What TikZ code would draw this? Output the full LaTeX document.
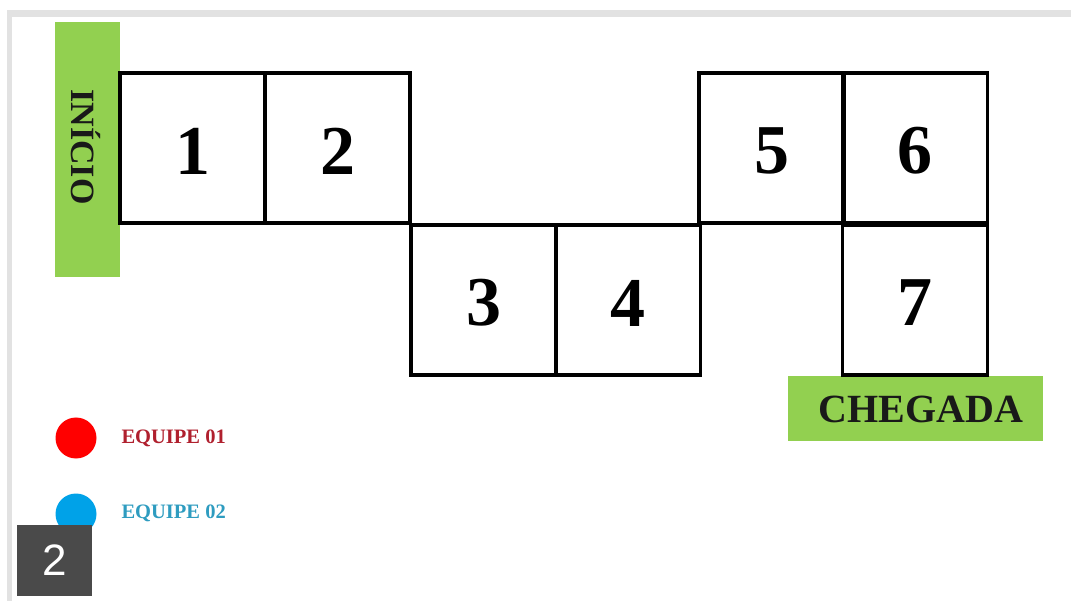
\documentclass[tikz,border=0pt]{standalone}
\usepackage{fontspec}
\setmainfont{Liberation Serif}
\newfontfamily\sansf{Liberation Sans}
\definecolor{grn}{HTML}{92D050}
\definecolor{edge}{HTML}{E2E2E2}
\definecolor{redteam}{HTML}{B0202E}
\definecolor{blueteam}{HTML}{2E9CC0}
\definecolor{bluedot}{HTML}{00A2E8}
\definecolor{darkbox}{HTML}{4A4A4A}
\tikzset{
  cell/.style={draw=black, line width=3.4pt, minimum width=145pt, minimum height=150pt, inner sep=0pt},
  num/.style={font=\bfseries\fontsize{70}{70}\selectfont},
  greenbox/.style={fill=grn, draw=none, inner sep=0pt},
  lbl/.style={font=\bfseries\fontsize{40}{40}\selectfont, text=black!90},
  team/.style={font=\bfseries\fontsize{20.5}{21}\selectfont, anchor=west},
}
\begin{document}
\begin{tikzpicture}[x=1pt,y=-1pt]
\useasboundingbox (0,0) rectangle (1071,601);
\fill[white] (0,0) rectangle (1071,601);
% frame bands
\fill[edge] (7,10) rectangle (1071,17);
\fill[edge] (7,10) rectangle (12,601);
% start box
\node[greenbox, minimum width=65pt, minimum height=255pt] (start) at (87.5,149.5) {};
\node[lbl, font=\bfseries\fontsize{34}{34}\selectfont, rotate=-90] (starttxt) at (86,147) {INÍCIO};
% finish box
\node[greenbox, minimum width=255pt, minimum height=64pt] (finish) at (915.5,408.5) {};
\node[lbl] (finishtxt) at (921,409) {CHEGADA};
% cells
\node[cell] (c1) at (192.5,148) {};
\node[cell] (c2) at (337.5,148) {};
\node[cell] (c3) at (483.5,300) {};
\node[cell] (c4) at (628,300) {};
\node[cell] (c5) at (771.5,148) {};
\node[cell] (c6) at (915,148) {};
\node[cell] (c7) at (915,300) {};
\foreach \n/\c in {1/c1,2/c2,3/c3,4/c4,5/c5,6/c6,7/c7}{
  \node[num] (t\n) at ([yshift=-3pt]\c.center) {\n};
}
% legend
\node[circle, fill=red, minimum size=41pt, inner sep=0pt] (dot1) at (76,438) {};
\node[team, text=redteam] (team1) at (118,438) {EQUIPE 01};
\node[circle, fill=bluedot, minimum size=41pt, inner sep=0pt] (dot2) at (76,514) {};
\node[team, text=blueteam] (team2) at (118,513) {EQUIPE 02};
% page number box
\node[fill=darkbox, minimum width=75pt, minimum height=71pt, inner sep=0pt, text=white, font=\sansf\fontsize{44}{44}\selectfont] (page) at (54.5,560.5) {2};
\end{tikzpicture}
\end{document}
